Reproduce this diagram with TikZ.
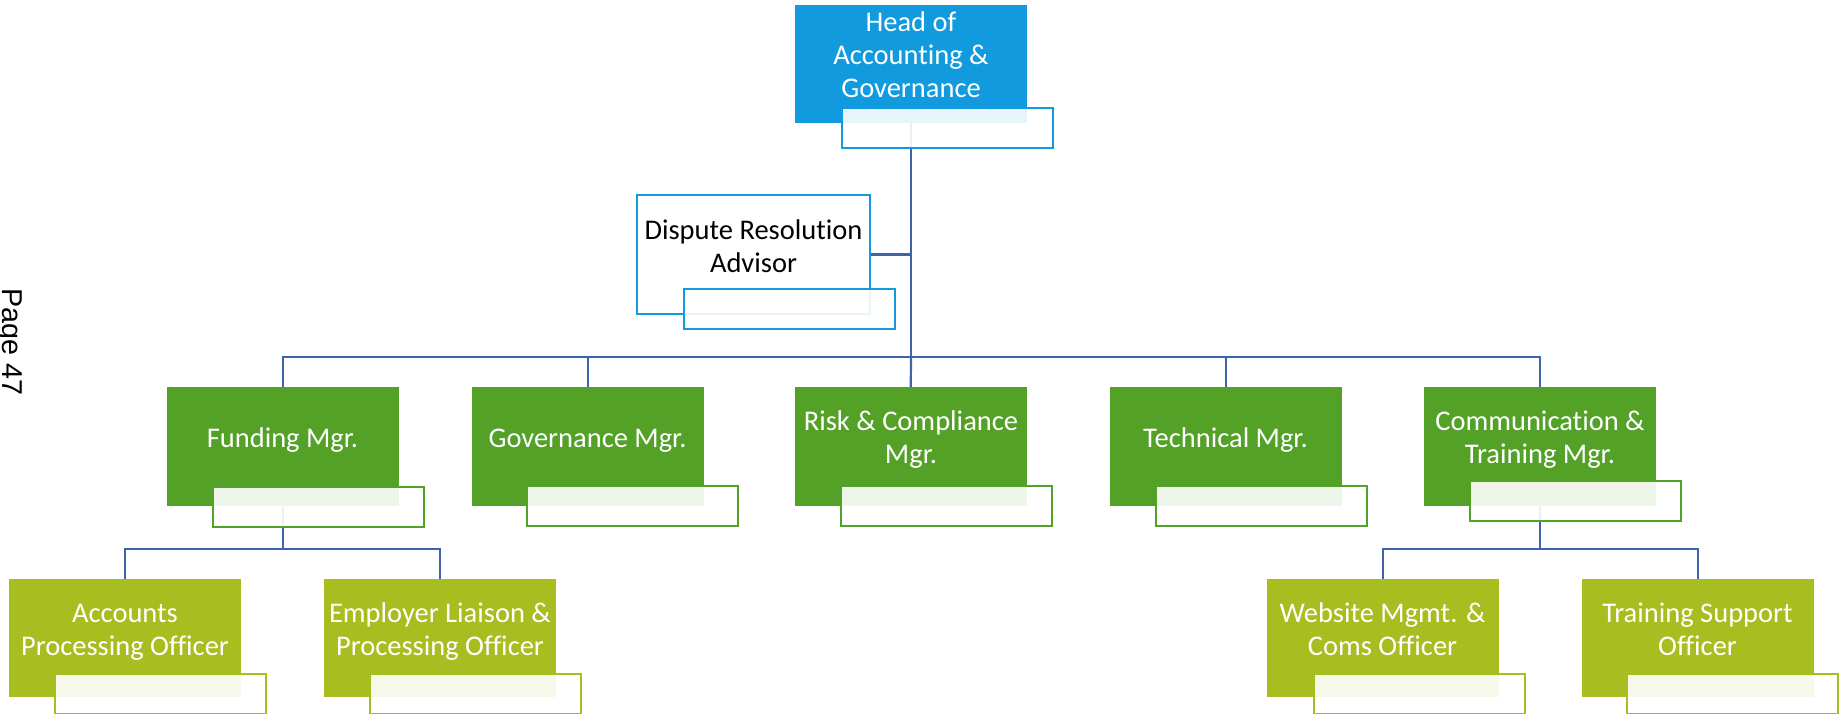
\documentclass[tikz,border=0pt]{standalone}
\usepackage{fontspec}
\setmainfont{Carlito}[Ligatures=NoCommon]
\newfontfamily\pagefont{Liberation Sans}
\definecolor{headblue}{RGB}{17,155,222}
\definecolor{mgrgreen}{RGB}{83,161,39}
\definecolor{offgreen}{RGB}{168,189,31}
\definecolor{linecol}{RGB}{62,99,170}
\begin{document}
\begin{tikzpicture}[x=0.5pt,y=-0.5pt,
  mainbox/.style={rectangle, anchor=north west, inner sep=0, outer sep=0, minimum width=115.75pt, minimum height=59.5pt},
  headbox/.style={mainbox, fill=headblue, minimum width=116pt, minimum height=59pt},
  mgrbox/.style={mainbox, fill=mgrgreen},
  offbox/.style={mainbox, fill=offgreen, minimum width=116pt, minimum height=59pt},
  dispbox/.style={rectangle, anchor=north west, inner sep=0, draw=headblue, fill=white, line width=1pt, minimum width=116.5pt, minimum height=59.5pt},
  subbox/.style={rectangle, anchor=north west, inner sep=0, fill=white, fill opacity=0.9, line width=1pt, minimum width=105.5pt, minimum height=20pt},
  txt/.style={font=\fontsize{14.25}{16.35}\selectfont, align=center, inner sep=0, anchor=base, text=white},
  conn/.style={draw=linecol, line width=1.1pt}
]
\useasboundingbox (0,0) rectangle (1841,713);

% page number
\node[font=\pagefont\fontsize{14.35}{17}\selectfont, rotate=-90, anchor=base west, inner sep=0] (page) at (2.5,288) {Page 47};

% main boxes
\node[headbox] (head) at (795,5) {};
\node[dispbox] (disp) at (636,194) {};
\node[mgrbox] (fund) at (167,387) {};
\node[mgrbox] (gov) at (472,387) {};
\node[mgrbox] (risk) at (795,387) {};
\node[mgrbox] (tech) at (1110,387) {};
\node[mgrbox] (comm) at (1424,387) {};
\node[offbox] (acct) at (9,579) {};
\node[offbox] (empl) at (324,579) {};
\node[offbox] (web) at (1267,579) {};
\node[offbox] (train) at (1582,579) {};

% texts (anchor = baseline of last line)
\node[txt] (headT) at (911,97) {Head of\\Accounting \&\\Governance};
\node[txt, text=black] (dispT) at (753.5,272) {Dispute Resolution\\Advisor};
\node[txt] (fundT) at (282.5,447) {Funding Mgr.};
\node[txt] (govT) at (587.5,447) {Governance Mgr.};
\node[txt] (riskT) at (911,463) {Risk \& Compliance\\Mgr.};
\node[txt] (techT) at (1225.5,447) {Technical Mgr.};
\node[txt] (commT) at (1540,463) {Communication \&\\Training Mgr.};
\node[txt] (acctT) at (125,655) {Accounts\\Processing Officer};
\node[txt] (emplT) at (440,655) {Employer Liaison \&\\Processing Officer};
\node[txt] (webT) at (1382.5,655) {Website Mgmt. \&\\Coms Officer};
\node[txt] (trainT) at (1697.5,655) {Training Support\\Officer};

% connectors
\coordinate (hub) at (911,357);
\draw[conn] (head.south) |- (disp.east);
\draw[conn] (head.south) -- (hub);
\draw[conn] (fund.north) |- (hub);
\draw[conn] (gov.north) |- (hub);
\draw[conn] (risk.north) -- (hub);
\draw[conn] (tech.north) |- (hub);
\draw[conn] (comm.north) |- (hub);
\path (fund.south) ++(0,43) coordinate (fhub);
\draw[conn] (fund.south) -- (fhub);
\draw[conn] (acct.north) |- (fhub);
\draw[conn] (empl.north) |- (fhub);
\path (comm.south) ++(0,43) coordinate (chub);
\draw[conn] (comm.south) -- (chub);
\draw[conn] (web.north) |- (chub);
\draw[conn] (train.north) |- (chub);

% sub boxes
\node[subbox, draw=headblue] (headS) at (841,107) {};
\node[subbox, draw=headblue] (dispS) at (683,288) {};
\node[subbox, draw=mgrgreen] (fundS) at (212,486) {};
\node[subbox, draw=mgrgreen] (govS) at (526,485) {};
\node[subbox, draw=mgrgreen] (riskS) at (840,485) {};
\node[subbox, draw=mgrgreen] (techS) at (1155,485) {};
\node[subbox, draw=mgrgreen] (commS) at (1469,480) {};
\node[subbox, draw=offgreen] (acctS) at (54,673) {};
\node[subbox, draw=offgreen] (emplS) at (369,673) {};
\node[subbox, draw=offgreen] (webS) at (1313,673) {};
\node[subbox, draw=offgreen] (trainS) at (1626,673) {};
\end{tikzpicture}
\end{document}
